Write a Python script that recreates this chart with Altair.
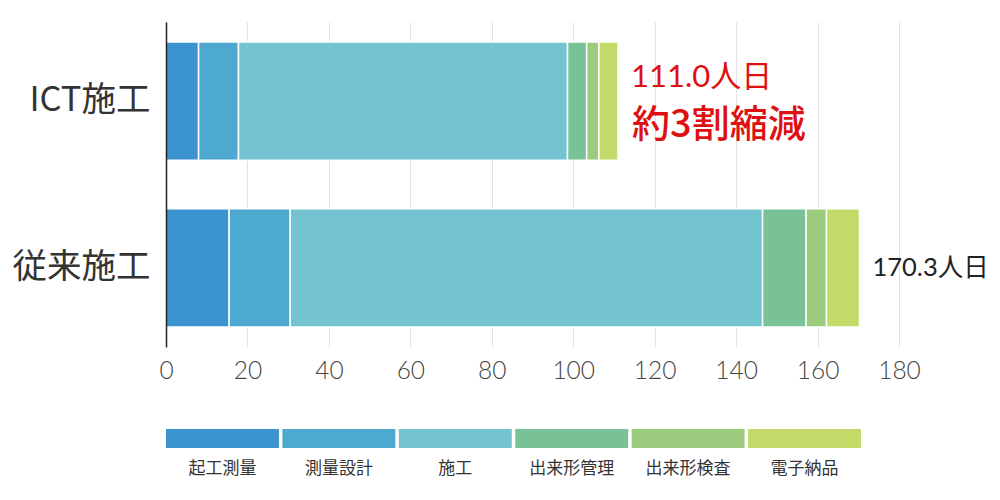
import altair as alt
import pandas as pd

methods = ["ICT施工", "従来施工"]
tasks = ["起工測量", "測量設計", "施工", "出来形管理", "出来形検査", "電子納品"]
ict_values = [8.0, 9.8, 80.8, 4.7, 3.0, 4.7]
conv_values = [15.5, 15.0, 116.0, 10.7, 5.0, 8.1]
task_colors = ["#3b94d0", "#4ea9d0", "#73c4d0", "#79c297", "#9ccb7d", "#c2da68"]
x_ticks = [0, 20, 40, 60, 80, 100, 120, 140, 160, 180]
reduction_note = "約3割縮減"
unit = "人日"

rows = []
for m, vals in zip(methods, [ict_values, conv_values]):
    for i, (t, v) in enumerate(zip(tasks, vals)):
        rows.append({"method": m, "task": t, "value": v, "order": i})
df = pd.DataFrame(rows)

totals = pd.DataFrame({
    "method": methods,
    "total": [round(sum(ict_values), 1), round(sum(conv_values), 1)],
})
totals["label"] = totals["total"].map(lambda t: f"{t:.1f}{unit}")
totals["note"] = reduction_note

color_scale = alt.Scale(domain=tasks, range=task_colors)
y_enc = alt.Y(
    "method:N", sort=methods,
    scale=alt.Scale(paddingInner=0.29, paddingOuter=0.12),
    axis=alt.Axis(title=None, ticks=False, domain=True, domainColor="#222",
                  domainWidth=1.5, labelFontSize=34.5, labelFont="Noto Sans CJK JP",
                  labelColor="#333", labelPadding=16, grid=False, zindex=1),
)

bars = alt.Chart(df).mark_bar(stroke="white", strokeWidth=1.5).encode(
    x=alt.X("value:Q", stack="zero",
            scale=alt.Scale(domain=[0, 180], nice=False),
            axis=alt.Axis(values=x_ticks, grid=True, gridColor="#e2e2e2",
                          domain=False, ticks=False, labelFontSize=24.5,
                          labelFont="Lato", labelFontWeight=300, labelFlush=False,
                          labelColor="#444", labelPadding=12, title=None)),
    y=y_enc,
    color=alt.Color("task:N", scale=color_scale, legend=None),
    order=alt.Order("order:Q"),
)

base_t = alt.Chart(totals)
ict_amount = base_t.transform_filter(alt.datum.method == methods[0]).mark_text(
    align="left", baseline="middle", dx=13, dy=-23, fontSize=31,
    font="Lato, Noto Sans CJK JP", color="#dd1111"
).encode(x="total:Q", y=alt.Y("method:N", sort=methods), text="label:N")

ict_note = base_t.transform_filter(alt.datum.method == methods[0]).mark_text(
    align="left", baseline="middle", dx=14, dy=25, fontSize=38,
    font="Noto Sans CJK JP", fontWeight=500, color="#dd1111"
).encode(x="total:Q", y=alt.Y("method:N", sort=methods), text="note:N")

conv_amount = base_t.transform_filter(alt.datum.method == methods[1]).mark_text(
    align="left", baseline="middle", dx=13, dy=0, fontSize=25.5,
    font="Lato, Noto Sans CJK JP", color="#222"
).encode(x="total:Q", y=alt.Y("method:N", sort=methods), text="label:N")

top = alt.layer(bars, ict_amount, ict_note, conv_amount).properties(width=733, height=325)

legend_df = pd.DataFrame({"task": tasks})
legend = alt.Chart(legend_df).mark_rect().encode(
    x=alt.X("task:N", sort=tasks,
            scale=alt.Scale(paddingInner=0.03, paddingOuter=0),
            axis=alt.Axis(title=None, domain=False, ticks=False, labelAngle=0,
                          labelFontSize=17, labelColor="#333", labelPadding=12,
                          labelFont="Noto Sans CJK JP")),
    color=alt.Color("task:N", scale=color_scale, legend=None),
).properties(width=695, height=19)

chart = alt.vconcat(top, legend, spacing=46).properties(
    padding={"left": 4, "top": 14, "right": 0, "bottom": 6}
).configure_view(stroke=None)

chart.save("out.html", embed_options={"renderer": "svg", "actions": False})
